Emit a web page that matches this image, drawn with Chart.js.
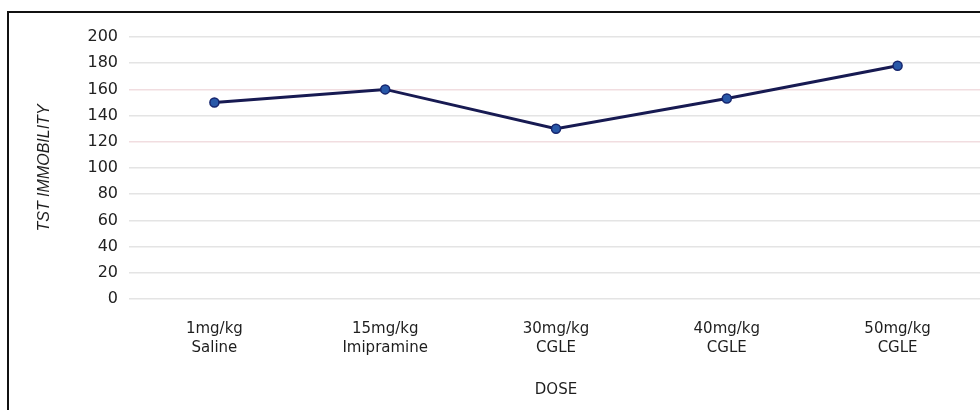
<!DOCTYPE html>
<html lang="en">
<head>
  <meta charset="UTF-8" />
  <title>TST Immobility by Dose</title>
  <script src="https://cdn.jsdelivr.net/npm/chart.js"></script>
  <style>
    html, body {
      margin: 0;
      padding: 0;
      background: #fff;
      overflow: hidden;
      width: 980px;
      height: 410px;
    }

    #frame {
      position: absolute;
      left: 7px;
      top: 11px;
      width: 1000px;
      height: 500px;
      border: 2px solid #111;
      box-sizing: border-box;
    }

    #chart-container {
      position: absolute;
      left: 0;
      top: 0;
      width: 989px;
      height: 410px;
    }
  </style>
</head>
<body>
  <div id="frame"></div>
  <div id="chart-container">
    <canvas id="chart"></canvas>
  </div>

  <script>
    // datos
    const doses = ['1mg/kg', '15mg/kg', '30mg/kg', '40mg/kg', '50mg/kg'];
    const groups = ['Saline', 'Imipramine', 'CGLE', 'CGLE', 'CGLE'];
    const immobility = [150, 160, 130, 153, 178];
    const yTicks = [0, 20, 40, 60, 80, 100, 120, 140, 160, 180, 200];

    const labels = doses.map((d, i) => [d, groups[i]]);

    const ctx = document.getElementById('chart').getContext('2d');
    const chart = new Chart(ctx, {
      type: 'line',
      data: {
        labels: labels,
        datasets: [{
          label: 'TST IMMOBILITY',
          data: immobility,
          borderColor: '#171a52',
          borderWidth: 3,
          tension: 0,
          pointRadius: 4.5,
          pointBackgroundColor: '#2858a8',
          pointBorderColor: '#15256e',
          pointBorderWidth: 1.5
        }]
      },
      options: {
        animation: false,
        responsive: true,
        maintainAspectRatio: false,
        layout: {
          padding: { top: 37, left: 0, right: 0, bottom: 0 }
        },
        plugins: {
          legend: { display: false },
          tooltip: { enabled: false }
        },
        scales: {
          x: {
            offset: true,
            grid: { display: false, drawTicks: false },
            border: { display: false },
            ticks: {
              padding: 20,
              color: '#1e1e1e',
              maxRotation: 0,
              font: { family: 'DejaVu Sans', size: 15, lineHeight: 1.3 }
            },
            title: {
              display: true,
              text: 'DOSE',
              color: '#1e1e1e',
              padding: { top: 0, bottom: 11 },
              font: { family: 'DejaVu Sans', size: 15, lineHeight: 1.2 }
            },
            afterFit: (scale) => { scale.height = 111; }
          },
          y: {
            min: 0,
            max: 200,
            afterBuildTicks: (scale) => {
              scale.ticks = yTicks.map(v => ({ value: v }));
            },
            grid: {
              drawTicks: false,
              lineWidth: 1.5,
              color: (c) => (c.tick && (c.tick.value === 120 || c.tick.value === 160)) ? '#f1dde0' : '#e4e4e4'
            },
            border: { display: false },
            ticks: {
              padding: 11,
              color: '#222',
              font: { family: 'DejaVu Sans', size: 16 }
            },
            title: {
              display: true,
              text: 'TST IMMOBILITY',
              color: '#1e1e1e',
              padding: { top: 35, bottom: 0 },
              font: { family: 'Liberation Sans', size: 16, style: 'italic', lineHeight: 1.2 }
            },
            afterFit: (scale) => { scale.width = 129; }
          }
        }
      }
    });
  </script>
</body>
</html>
